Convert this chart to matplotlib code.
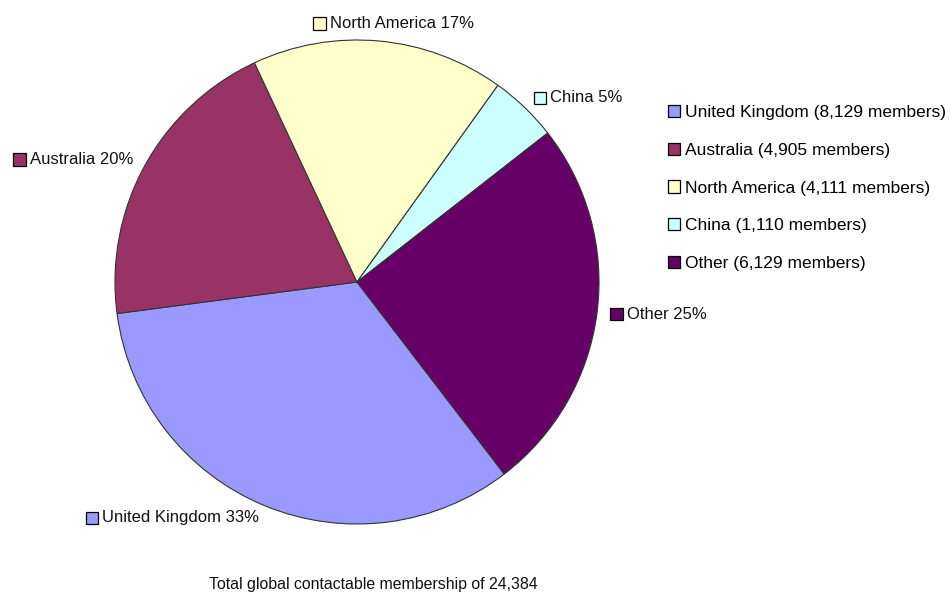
import numpy as np
import matplotlib.pyplot as plt
from matplotlib.patches import Patch, Rectangle
from matplotlib.offsetbox import AnnotationBbox, HPacker, TextArea, DrawingArea

plt.rcParams['font.family'] = ['Liberation Sans', 'DejaVu Sans']

regions = ["United Kingdom", "Australia", "North America", "China", "Other"]
members = [8129, 4905, 4111, 1110, 6129]
colors = ["#9999FF", "#993366", "#FFFFCC", "#CCFFFF", "#660066"]
total = sum(members)

fig = plt.figure(figsize=(9.5, 5.98), dpi=100)
ax = fig.add_axes([0, 0, 1, 1])
ax.set_xlim(0, 950)
ax.set_ylim(0, 598)
ax.set_aspect('equal')
ax.axis('off')

cx, cy, r = 357, 598 - 282, 242
wedges, _ = ax.pie(members, colors=colors, startangle=307.5, counterclock=False,
                   center=(cx, cy), radius=r,
                   wedgeprops=dict(edgecolor='#333333', linewidth=0.8))
ax.set_xlim(0, 950)
ax.set_ylim(0, 598)

# slice labels with small colour squares
for w, name, v, c in zip(wedges, regions, members, colors):
    mid = np.deg2rad((w.theta1 + w.theta2) / 2)
    d = r * 1.055
    x, y = cx + d * np.cos(mid), cy + d * np.sin(mid)
    if np.cos(mid) > 0.3:
        align = (0, 0.5)
    elif np.cos(mid) < -0.3:
        align = (1, 0.5)
    else:
        align = (0.42, 0.2)
    da = DrawingArea(9, 9, 0, 0)
    da.add_artist(Rectangle((0, 0), 9, 9, facecolor=c, edgecolor='black', linewidth=0.9))
    ta = TextArea("%s %d%%" % (name, round(100 * v / total)),
                  textprops=dict(fontsize=12, color='#111111'))
    box = HPacker(children=[da, ta], pad=0, sep=3, align='center')
    ab = AnnotationBbox(box, (x, y), box_alignment=align, frameon=False, pad=0)
    ax.add_artist(ab)

handles = [Patch(facecolor=c, edgecolor='black', linewidth=0.9) for c in colors]
labels = ["%s (%s members)" % (n, format(v, ',')) for n, v in zip(regions, members)]
ax.legend(handles, labels, loc='upper left', bbox_to_anchor=(668, 598 - 105),
          bbox_transform=ax.transData, frameon=False, fontsize=12.5,
          handlelength=0.7, handleheight=0.7, handletextpad=0.3,
          labelspacing=1.3, borderaxespad=0, borderpad=0)

ax.text(373, 598 - 585, "Total global contactable membership of 24,384",
        ha='center', va='center', fontsize=11.4, color='#111111')

fig.savefig("out.png", dpi=100)
